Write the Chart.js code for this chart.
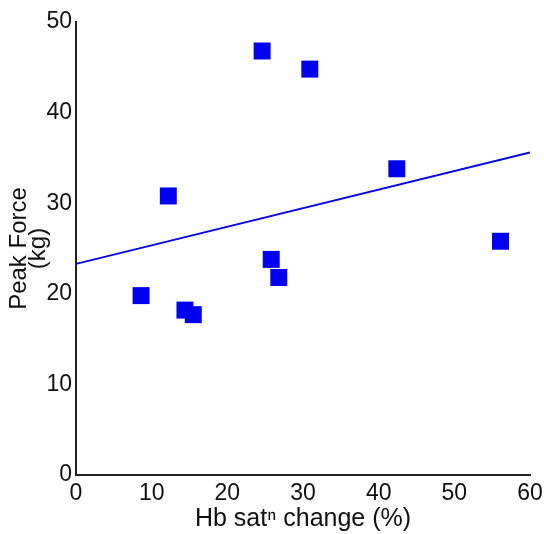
<!DOCTYPE html>
<html>
<head>
<meta charset="utf-8">
<script src="https://cdn.jsdelivr.net/npm/chart.js@4"></script>
<style>
  html, body { margin: 0; padding: 0; background: #fff; }
  #wrap { width: 544px; height: 534px; }
</style>
</head>
<body>
<div id="wrap"><canvas id="c"></canvas></div>
<script>
Chart.defaults.font.family = '"Liberation Sans", Arial, sans-serif';
Chart.defaults.color = "#111";

// Hb saturation change (%) vs peak force (kg)
const hbChange  = [24.6, 30.9, 42.4, 12.2, 56.1, 25.8, 26.8, 8.6, 14.4, 15.5];
const peakForce = [46.8, 44.8, 33.8, 30.8, 25.8, 23.8, 21.8, 19.8, 18.2, 17.7];

// fitted line, read at the two ends of the x range
const fitX = [0, 60];
const fitY = [23.3, 35.6];

const xTicks = [0, 10, 20, 30, 40, 50, 60];
const yTicks = [0, 10, 20, 30, 40, 50];

const BLUE = "#0000f0";
const AXIS = "#222";

new Chart(document.getElementById("c"), {
    type: "scatter",
    data: {
        datasets: [
            {
                label: "data",
                data: hbChange.map((x, i) => ({ x, y: peakForce[i] })),
                pointStyle: "rect",
                pointRadius: 12,
                backgroundColor: BLUE,
                borderColor: BLUE,
                borderWidth: 0,
                order: 1,
            },
            {
                label: "fit",
                data: fitX.map((x, i) => ({ x, y: fitY[i] })),
                showLine: true,
                pointRadius: 0,
                borderColor: BLUE,
                borderWidth: 1.8,
                order: 2,
            },
        ],
    },
    options: {
        responsive: true,
        maintainAspectRatio: false,
        animation: false,
        layout: { padding: { top: 22, right: 14, bottom: 0, left: 0 } },
        plugins: { legend: { display: false }, tooltip: { enabled: false } },
        scales: {
            x: {
                type: "linear",
                min: xTicks[0],
                max: xTicks[xTicks.length - 1],
                afterBuildTicks: s => { s.ticks = xTicks.map(v => ({ value: v })); },
                afterFit: s => { s.height = 59; s.paddingLeft = 0; s.paddingRight = 0; },
                grid: { display: false, drawTicks: false },
                border: { display: true, color: AXIS, width: 2 },
                ticks: { font: { size: 23 }, padding: 5, color: "#111" },
                title: {
                    display: true,
                    text: "Hb satⁿ change (%)",
                    font: { size: 25 },
                    padding: { top: 0, bottom: 0 },
                    color: "#111",
                },
            },
            y: {
                type: "linear",
                min: yTicks[0],
                max: yTicks[yTicks.length - 1],
                afterBuildTicks: s => { s.ticks = yTicks.map(v => ({ value: v })); },
                afterFit: s => { s.width = 76; },
                grid: { display: false, drawTicks: false },
                border: { display: true, color: AXIS, width: 2 },
                ticks: { font: { size: 23 }, padding: 4, color: "#111" },
                title: {
                    display: true,
                    text: ["Peak Force", "(kg)"],
                    font: { size: 24, lineHeight: 0.8 },
                    padding: { top: 10, bottom: 0 },
                    color: "#111",
                },
            },
        },
    },
});
</script>
</body>
</html>
